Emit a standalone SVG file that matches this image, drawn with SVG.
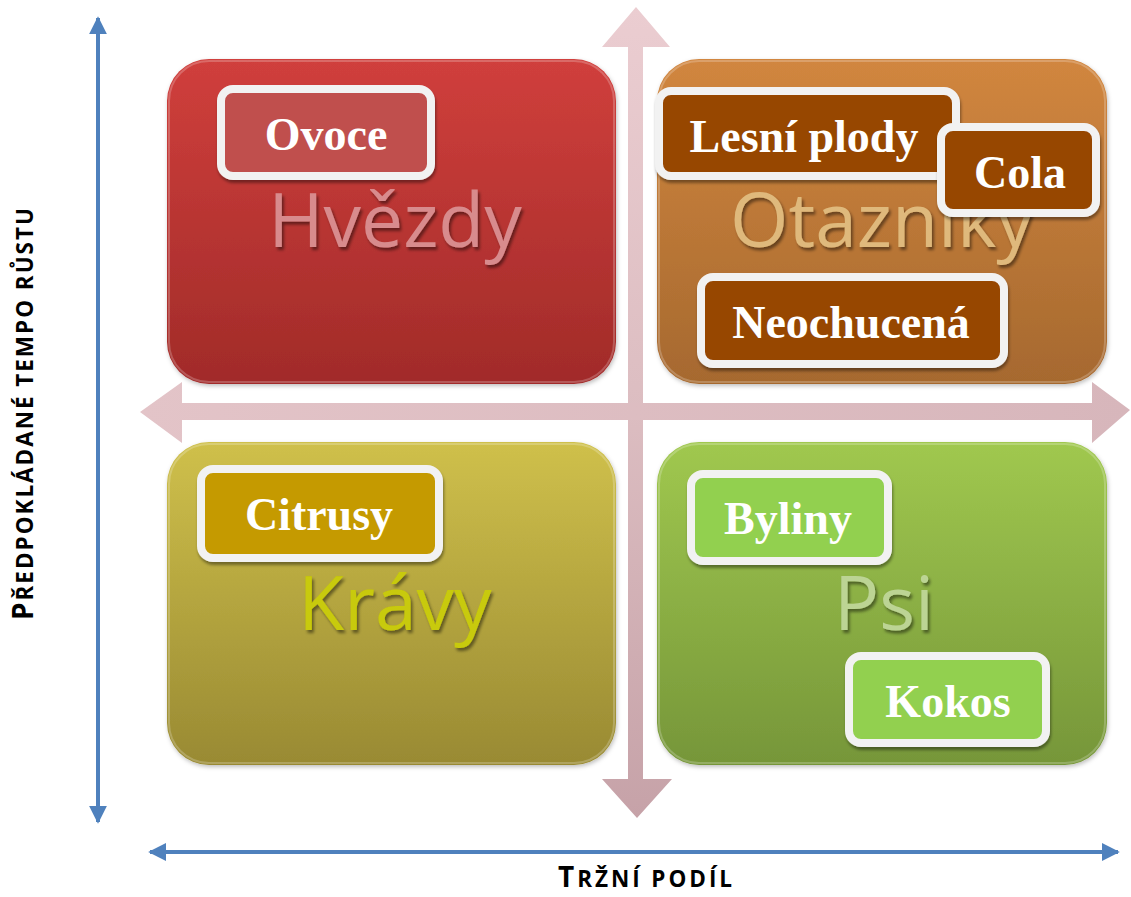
<svg xmlns="http://www.w3.org/2000/svg" width="1131" height="897" viewBox="0 0 1131 897">
  <defs>
    <linearGradient id="gRed" x1="0" y1="0" x2="0" y2="1">
      <stop offset="0" stop-color="#d03f3c"/>
      <stop offset="1" stop-color="#a12b29"/>
    </linearGradient>
    <linearGradient id="gOrange" x1="0" y1="0" x2="0" y2="1">
      <stop offset="0" stop-color="#d1863f"/>
      <stop offset="1" stop-color="#a6692f"/>
    </linearGradient>
    <linearGradient id="gOlive" x1="0" y1="0" x2="0" y2="1">
      <stop offset="0" stop-color="#cfc04b"/>
      <stop offset="1" stop-color="#998a33"/>
    </linearGradient>
    <linearGradient id="gGreen" x1="0" y1="0" x2="0" y2="1">
      <stop offset="0" stop-color="#a0c84f"/>
      <stop offset="1" stop-color="#769639"/>
    </linearGradient>
    <linearGradient id="gVert" x1="0" y1="0" x2="0" y2="1">
      <stop offset="0" stop-color="#ebcdd1"/>
      <stop offset="0.5" stop-color="#dcbdc1"/>
      <stop offset="1" stop-color="#c6a2a8"/>
    </linearGradient>
    <linearGradient id="gHor" x1="0" y1="0" x2="1" y2="0">
      <stop offset="0" stop-color="#e3c4c8"/>
      <stop offset="1" stop-color="#d7b6bb"/>
    </linearGradient>
    <filter id="txtShadow" x="-10%" y="-20%" width="130%" height="150%">
      <feDropShadow dx="2" dy="3" stdDeviation="1.5" flood-color="#000" flood-opacity="0.45"/>
    </filter>
    <filter id="boxShadow" x="-10%" y="-10%" width="125%" height="135%">
      <feDropShadow dx="1" dy="3" stdDeviation="1.5" flood-color="#000" flood-opacity="0.4"/>
    </filter>
    <filter id="quadShadow" x="-5%" y="-5%" width="115%" height="115%">
      <feDropShadow dx="1" dy="2" stdDeviation="2" flood-color="#000" flood-opacity="0.25"/>
    </filter>
    <marker id="blueHead" viewBox="0 0 10 10" refX="9" refY="5" markerWidth="4.5" markerHeight="4.5" orient="auto-start-reverse" markerUnits="strokeWidth">
      <path d="M0,0 L10,5 L0,10 z" fill="#4f81bd"/>
    </marker>
  </defs>
  <style>
    .quad { stroke: none; }
    .bevel { fill: none; stroke: #ffffff; stroke-opacity: 0.22; stroke-width: 2; }
    .qlabel { font-family: "Open Sans", "Noto Sans", sans-serif; font-size: 75px; text-anchor: middle; }
    .box { stroke: #f2f2f2; stroke-width: 8; }
    .btxt { font-family: "Liberation Serif", "Times New Roman", serif; font-weight: bold; font-size: 46px; fill: #ffffff; text-anchor: middle; }
    .axis { stroke: #4f81bd; stroke-width: 4; fill: none; }
    .axlabel { font-family: "Open Sans", "Noto Sans", sans-serif; font-weight: bold; fill: #000; text-anchor: middle; }
  </style>

  <g id="connectors">
    <path id="vArrow" d="M636,7 L670,47 L643,47 L643,779 L672,779 L637,818 L602,779 L628,779 L628,47 L602,47 Z" fill="url(#gVert)"/>
    <path id="hArrow" d="M140,412 L182,382 L182,403 L1092,403 L1092,382 L1130,410 L1092,443 L1092,420 L182,420 L182,443 Z" fill="url(#gHor)"/>
    <line class="axis" x1="98" y1="822" x2="98" y2="18" marker-end="url(#blueHead)" marker-start="url(#blueHead)"/>
    <line class="axis" x1="150" y1="852" x2="1118" y2="852" marker-end="url(#blueHead)" marker-start="url(#blueHead)"/>
  </g>

  <g id="q-hvezdy">
    <rect class="quad" x="167" y="59" width="449" height="325" rx="42" fill="url(#gRed)" filter="url(#quadShadow)"/>
    <rect class="bevel" x="169" y="61" width="445" height="321" rx="40"/>
    <text class="qlabel" x="395" y="247" fill="#d88b8d" filter="url(#txtShadow)">Hvězdy</text>
  </g>
  <g id="q-otazniky">
    <rect class="quad" x="657" y="59" width="450" height="325" rx="42" fill="url(#gOrange)" filter="url(#quadShadow)"/>
    <rect class="bevel" x="659" y="61" width="446" height="321" rx="40"/>
    <text class="qlabel" x="882" y="247" fill="#dfb97c" filter="url(#txtShadow)">Otazníky</text>
  </g>
  <g id="q-kravy">
    <rect class="quad" x="167" y="442" width="449" height="323" rx="42" fill="url(#gOlive)" filter="url(#quadShadow)"/>
    <rect class="bevel" x="169" y="444" width="445" height="319" rx="40"/>
    <text class="qlabel" x="395" y="630" fill="#c8ca08" filter="url(#txtShadow)">Krávy</text>
  </g>
  <g id="q-psi">
    <rect class="quad" x="657" y="442" width="450" height="323" rx="42" fill="url(#gGreen)" filter="url(#quadShadow)"/>
    <rect class="bevel" x="659" y="444" width="446" height="319" rx="40"/>
    <text class="qlabel" x="884" y="630" fill="#bcd494" filter="url(#txtShadow)">Psi</text>
  </g>

  <g id="n-ovoce">
    <rect class="box" x="221" y="89" width="210" height="87" rx="12" fill="#c0504d" filter="url(#boxShadow)"/>
    <text class="btxt" x="326" y="150">Ovoce</text>
  </g>
  <g id="n-lesni-plody">
    <rect class="box" x="659" y="91" width="297" height="85" rx="12" fill="#974706" filter="url(#boxShadow)"/>
    <text class="btxt" x="804" y="152">Lesní plody</text>
  </g>
  <g id="n-cola">
    <rect class="box" x="941" y="127" width="155" height="86" rx="12" fill="#974706" filter="url(#boxShadow)"/>
    <text class="btxt" x="1020" y="188">Cola</text>
  </g>
  <g id="n-neochucena">
    <rect class="box" x="701" y="277" width="303" height="87" rx="12" fill="#974706" filter="url(#boxShadow)"/>
    <text class="btxt" x="851" y="338">Neochucená</text>
  </g>
  <g id="n-citrusy">
    <rect class="box" x="201" y="469" width="238" height="89" rx="12" fill="#c59a02" filter="url(#boxShadow)"/>
    <text class="btxt" x="319" y="530">Citrusy</text>
  </g>
  <g id="n-byliny">
    <rect class="box" x="691" y="474" width="197" height="87" rx="12" fill="#92d050" filter="url(#boxShadow)"/>
    <text class="btxt" x="788" y="534">Byliny</text>
  </g>
  <g id="n-kokos">
    <rect class="box" x="849" y="656" width="197" height="87" rx="12" fill="#92d050" filter="url(#boxShadow)"/>
    <text class="btxt" x="948" y="717">Kokos</text>
  </g>

  <g id="axis-labels">
    <text class="axlabel" transform="translate(33,414) rotate(-90)" x="0" y="0" textLength="412" lengthAdjust="spacing"><tspan font-size="28">P</tspan><tspan font-size="22.5">ŘEDPOKLÁDANÉ TEMPO RŮSTU</tspan></text>
    <text class="axlabel" x="645" y="887" textLength="174" lengthAdjust="spacing"><tspan font-size="28">T</tspan><tspan font-size="22.5">RŽNÍ PODÍL</tspan></text>
  </g>
</svg>
